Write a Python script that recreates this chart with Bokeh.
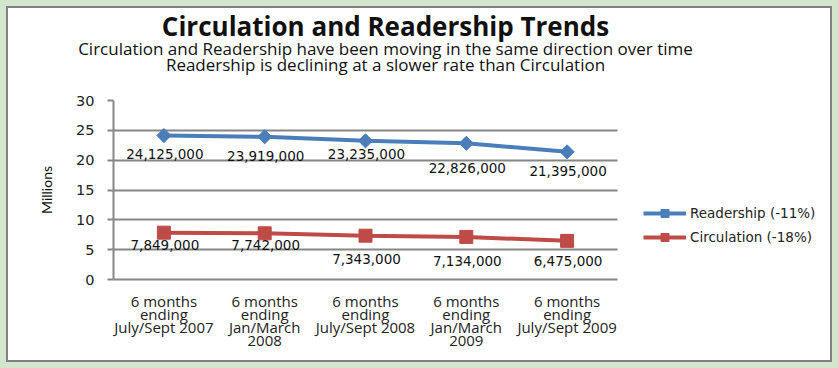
import math
from bokeh.plotting import figure
from bokeh.layouts import column
from bokeh.models import (LabelSet, ColumnDataSource, Legend, LegendItem,
                          FixedTicker, Range1d)
from bokeh.embed import file_html
from bokeh.resources import INLINE
from bokeh.core.properties import value

# ---- data ----
categories = [
    "6 months\nending\nJuly/Sept 2007",
    "6 months\nending\nJan/March\n2008",
    "6 months\nending\nJuly/Sept 2008",
    "6 months\nending\nJan/March\n2009",
    "6 months\nending\nJuly/Sept 2009",
]
readership = [24125000, 23919000, 23235000, 22826000, 21395000]
circulation = [7849000, 7742000, 7343000, 7134000, 6475000]
series_names = ["Readership (-11%)", "Circulation (-18%)"]
y_ticks = [0, 5, 10, 15, 20, 25, 30]

title_text = "Circulation and Readership Trends"
subtitle_1 = "Circulation and Readership have been moving in the same direction over time"
subtitle_2 = "Readership is declining at a slower rate than Circulation"
y_axis_text = "Millions"

# label placement (screen px relative to the point), mimicking Excel's placement
read_label_dy = [-18, -19, -13, -25, -19]
circ_label_dy = [-12, -12, -23, -24, -20]

BLUE = "#4A7EBB"
RED = "#BE4B48"
GRID = "#868686"
TXT = "#111111"

W = 822
HEAD_H = 84
CHART_H = 268

# ---------- header with the titles ----------
head = figure(width=W, height=HEAD_H, output_backend="svg", toolbar_location=None,
              x_range=Range1d(0, W), y_range=Range1d(HEAD_H, 0), title=None,
              min_border=0, x_axis_type=None, y_axis_type=None)
head.frame_align = False
head.outline_line_color = None
head.grid.visible = False
head.text(x=[377], y=[17.5], text=[title_text], text_align="center",
          text_baseline="alphabetic", text_font=value("Open Sans"),
          text_font_style="bold", text_font_size="26px", text_color=TXT)
head.text(x=[377, 377], y=[40, 56], text=[subtitle_1, subtitle_2], text_align="center",
          text_baseline="alphabetic", text_font=value("Open Sans"),
          text_font_size="17px", text_color=TXT)

# ---------- chart ----------
n = len(categories)
xs = list(range(n))
px_per_cat = 100.8
x_end = (n - 0.5) + 213 / px_per_cat   # room on the right for the legend

p = figure(width=W, height=CHART_H, output_backend="svg", toolbar_location=None,
           x_range=Range1d(-0.5, x_end), y_range=Range1d(y_ticks[0], y_ticks[-1]),
           min_border_left=105, min_border_right=0, min_border_top=8, min_border_bottom=81)
p.frame_align = False
p.outline_line_color = None

p.yaxis.ticker = FixedTicker(ticks=y_ticks)
p.yaxis.major_label_text_font = "DejaVu Sans"
p.yaxis.major_label_text_font_size = "14.5px"
p.yaxis.major_label_text_color = "#222222"
p.yaxis.major_tick_out = 6
p.yaxis.major_tick_in = 0
p.yaxis.major_tick_line_color = GRID
p.yaxis.major_tick_line_width = 2
p.yaxis.minor_tick_line_color = None
p.yaxis.axis_line_color = GRID
p.yaxis.axis_line_width = 2
p.yaxis.major_label_standoff = 13
p.yaxis.axis_label = y_axis_text
p.yaxis.axis_label_text_font = "Lato"
p.yaxis.axis_label_text_font_style = "normal"
p.yaxis.axis_label_text_font_size = "14px"
p.yaxis.axis_label_text_color = TXT
p.yaxis.axis_label_standoff = 18

p.xaxis.ticker = FixedTicker(ticks=xs)
p.xaxis.major_label_overrides = {i: c for i, c in zip(xs, categories)}
p.xaxis.bounds = (-0.5, n - 0.5)
p.xaxis.major_label_text_font = "Open Sans"
p.xaxis.major_label_text_font_size = "15px"
p.xaxis.major_label_text_line_height = 0.65
p.xaxis.major_label_text_color = "#222222"
p.xaxis.major_tick_line_color = None
p.xaxis.minor_tick_line_color = None
p.xaxis.axis_line_color = GRID
p.xaxis.axis_line_width = 2
p.xaxis.major_label_standoff = 5

p.xgrid.grid_line_color = None
p.ygrid.grid_line_color = GRID
p.ygrid.grid_line_width = 2
p.ygrid.cross_bounds = (-0.5, n - 0.5)

ry = [v / 1e6 for v in readership]
cy = [v / 1e6 for v in circulation]
r_src = ColumnDataSource(dict(x=xs, y=ry, t=[f"{v:,}" for v in readership], dy=read_label_dy))
c_src = ColumnDataSource(dict(x=xs, y=cy, t=[f"{v:,}" for v in circulation], dy=circ_label_dy))

rl = p.line("x", "y", source=r_src, line_color=BLUE, line_width=4)
rm = p.scatter("x", "y", source=r_src, marker="square", angle=math.pi / 4, size=10,
               fill_color=BLUE, line_color=BLUE)
cl = p.line("x", "y", source=c_src, line_color=RED, line_width=4)
cm = p.scatter("x", "y", source=c_src, marker="square", size=13, fill_color=RED, line_color=RED)

for src in (r_src, c_src):
    p.add_layout(LabelSet(x="x", y="y", text="t", source=src, y_offset="dy", x_offset=1,
                          text_align="center", text_baseline="middle",
                          text_font=value("DejaVu Sans"), text_font_size="13.5px",
                          text_color=TXT))

legend = Legend(items=[LegendItem(label=series_names[0], renderers=[rl, rm]),
                       LegendItem(label=series_names[1], renderers=[cl, cm])],
                location=(530, 32), padding=0, margin=0, spacing=4,
                glyph_width=43, glyph_height=20, label_standoff=4,
                label_text_font="DejaVu Sans", label_text_font_size="13.5px",
                label_text_color="#222222", border_line_color=None,
                background_fill_alpha=0)
p.add_layout(legend, "center")

layout = column(head, p, spacing=0,
                styles={"border": "2px solid #808080", "outline": "6px solid #d3e6cc",
                        "margin": "6px", "background-color": "white"})

open("out.html", "w").write(file_html(layout, INLINE))
